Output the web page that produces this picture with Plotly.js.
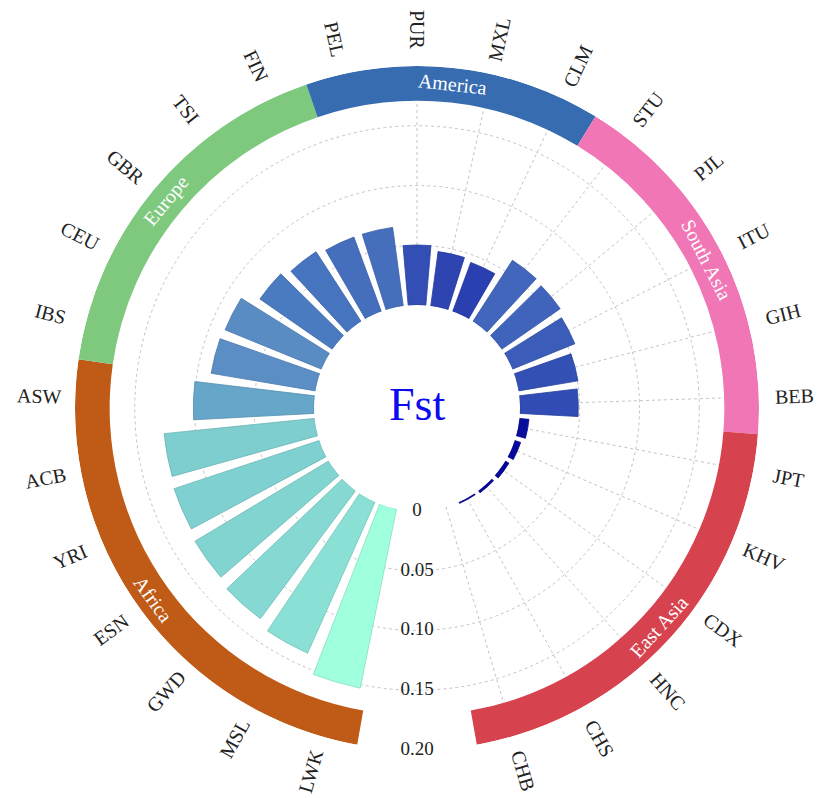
<!DOCTYPE html>
<html>
<head>
<meta charset="utf-8">
<script src="https://cdn.plot.ly/plotly-3.0.1.min.js"></script>
<style>
  html, body { margin: 0; padding: 0; background: #ffffff; }
  #chart { width: 817px; height: 798px; }
</style>
</head>
<body>
<div id="chart"></div>
<script>
// Populations in clockwise order, starting next to the gap at the bottom
const populations = ['LWK', 'MSL', 'GWD', 'ESN', 'YRI', 'ACB', 'ASW',
                     'IBS', 'CEU', 'GBR', 'TSI', 'FIN',
                     'PEL', 'PUR', 'MXL', 'CLM',
                     'STU', 'PJL', 'ITU', 'GIH', 'BEB',
                     'JPT', 'KHV', 'CDX', 'HNC', 'CHS', 'CHB'];
const fstValues = [0.153, 0.1385, 0.1335, 0.1305, 0.128, 0.1265, 0.101,
                   0.0885, 0.0872, 0.0738, 0.0695, 0.0663,
                   0.0663, 0.0502, 0.0459, 0.0437,
                   0.061, 0.0596, 0.0564, 0.0504, 0.0488,
                   0.008, 0.0052, 0.0035, 0.0022, 0.0012, 0];

// Super-populations (consecutive runs of the list above)
const groupNames  = ['Africa', 'Europe', 'America', 'South Asia', 'East Asia'];
const groupSizes  = [7, 5, 4, 5, 6];
const groupColors = ['#bf5b17', '#7fc97f', '#386cb0', '#f076b5', '#d7424f'];

// Radial scale labels shown in the gap
const radialTicks    = [0, 0.05, 0.1, 0.15, 0.2];
const radialTickText = ['0', '0.05', '0.10', '0.15', '0.20'];

// ---- geometry / styling ----
const W = 817, H = 798;
const M = { l: 75, r: 58, t: 66, b: 48 };
const SIDE = W - M.l - M.r;            // square polar area (684 px)
const OUTER_PX = SIDE / 2;             // radius of r = 0.2
const HOLE_PX = 103;
const SLOT = 360 / 28.6;               // angular step between populations
const MID = (populations.length - 1) / 2;
const BAR_FRAC = 0.78;
const RING_IN = 0.171, RING_OUT = 0.2;
const LABEL_PX = 378, GROUP_PX = 325.5;
const SERIF = '"Liberation Serif", "Times New Roman", serif';

const thetaOf = k => (k - MID) * SLOT;   // 0 at the top, clockwise positive
const thetas = populations.map((_, k) => thetaOf(k));
const gapTheta = thetaOf(populations.length - 1) + (360 - (populations.length - 1) * SLOT) / 2;

const norm = a => { a = ((a % 360) + 360) % 360; return a > 180 ? a - 360 : a; };
const toPaper = (px, thetaDeg) => {
  const a = (90 - thetaDeg) * Math.PI / 180;
  return { x: 0.5 + px * Math.cos(a) / SIDE, y: 0.5 + px * Math.sin(a) / SIDE };
};

const fillScale = [
  [0.00, '#02029a'], [0.29, '#2b40b0'], [0.33, '#3350b5'], [0.40, '#4266bc'],
  [0.48, '#4a7abf'], [0.57, '#5a8cc4'], [0.66, '#66a6c8'], [0.83, '#7ecfd0'],
  [0.905, '#8ae0d4'], [1.00, '#a0ffdc']
];
const edgeScale = [
  [0.00, '#020280'], [0.29, '#233699'], [0.33, '#2a449e'], [0.40, '#3757a5'],
  [0.48, '#3e68a8'], [0.57, '#4b78ad'], [0.66, '#568fb0'], [0.83, '#6ab3b4'],
  [0.905, '#74c3b8'], [1.00, '#86dfbf']
];
const vmax = Math.max(...fstValues);

// Bars
const barTrace = {
  type: 'barpolar',
  r: fstValues,
  theta: thetas,
  width: SLOT * BAR_FRAC,
  marker: {
    color: fstValues, colorscale: fillScale, cmin: 0, cmax: vmax, showscale: false,
    line: { color: fstValues, colorscale: edgeScale, cmin: 0, cmax: vmax, width: 0.8 }
  },
  hoverinfo: 'skip'
};

// Outer group ring
const ringTheta = [], ringWidth = [];
let start = 0;
groupSizes.forEach(n => {
  ringTheta.push(thetaOf(start + (n - 1) / 2));
  ringWidth.push(n * SLOT);
  start += n;
});
const ringTrace = {
  type: 'barpolar',
  r: groupNames.map(() => RING_OUT - RING_IN),
  base: groupNames.map(() => RING_IN),
  theta: ringTheta,
  width: ringWidth,
  marker: { color: groupColors, line: { width: 0 } },
  hoverinfo: 'skip'
};

// Radial scale labels in the gap
const tickTrace = {
  type: 'scatterpolar',
  mode: 'text',
  r: radialTicks,
  theta: radialTicks.map(() => gapTheta),
  text: radialTickText,
  textposition: 'middle center',
  textfont: { family: SERIF, size: 19, color: '#222222' },
  cliponaxis: false,
  hoverinfo: 'skip'
};

const annotations = [];

// Population names, radial and kept upright
populations.forEach((name, k) => {
  const th = thetas[k];
  const p = toPaper(LABEL_PX, th);
  const ang = k > MID ? th - 90 : th + 90;
  annotations.push({
    xref: 'paper', yref: 'paper', x: p.x, y: p.y,
    xanchor: 'center', yanchor: 'middle', showarrow: false,
    text: name, textangle: norm(ang),
    font: { family: SERIF, size: 20, color: '#222222' }
  });
});

// Group names along the ring
groupNames.forEach((name, i) => {
  const th = ringTheta[i];
  const p = toPaper(GROUP_PX, th);
  const a = 90 - th;
  const ang = Math.sin(a * Math.PI / 180) >= 0 ? th : th - 180;
  annotations.push({
    xref: 'paper', yref: 'paper', x: p.x, y: p.y,
    xanchor: 'center', yanchor: 'middle', showarrow: false,
    text: name, textangle: norm(ang),
    font: { family: SERIF, size: 20, color: '#ffffff' }
  });
});

// Centre title
annotations.push({
  xref: 'paper', yref: 'paper', x: 0.5, y: 0.5, yshift: 4,
  xanchor: 'center', yanchor: 'middle', showarrow: false,
  text: 'Fst', font: { family: SERIF, size: 46, color: '#0b0bee' }
});

const layout = {
  width: W, height: H,
  margin: M,
  paper_bgcolor: '#ffffff',
  showlegend: false,
  font: { family: SERIF },
  polar: {
    domain: { x: [0, 1], y: [0, 1] },
    hole: HOLE_PX / OUTER_PX,
    bgcolor: '#ffffff',
    barmode: 'overlay',
    radialaxis: {
      range: [0, 0.2],
      tickvals: radialTicks.slice(1),
      showticklabels: false, ticks: '', showline: false,
      gridcolor: '#c4c4c4', griddash: 'dot', gridwidth: 1
    },
    angularaxis: {
      type: 'linear', thetaunit: 'degrees',
      rotation: 90, direction: 'clockwise',
      tickvals: thetas,
      showticklabels: false, ticks: '', showline: false,
      gridcolor: '#c4c4c4', griddash: 'dot', gridwidth: 1
    }
  },
  annotations: annotations
};

Plotly.newPlot('chart', [barTrace, ringTrace, tickTrace], layout, { displayModeBar: false, staticPlot: true });
</script>
</body>
</html>
